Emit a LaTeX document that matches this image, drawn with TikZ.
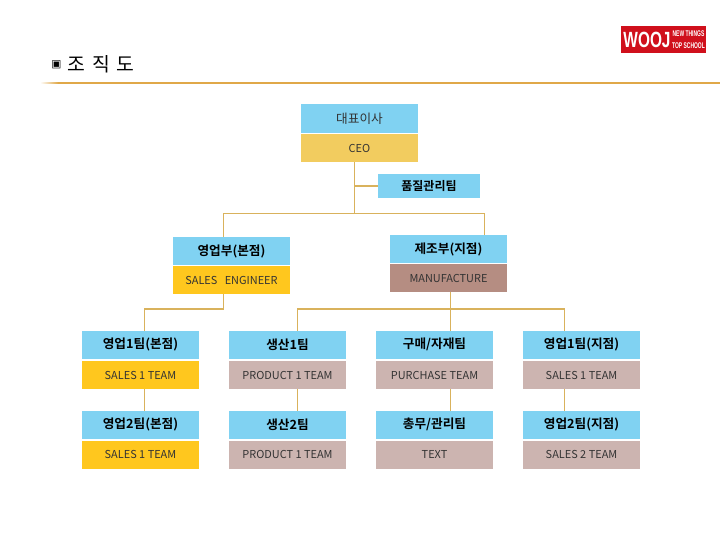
\documentclass[tikz,border=0pt]{standalone}
\usepackage{fontspec}
\setmainfont{Noto Sans CJK KR}
\newfontfamily\krbold{Noto Sans CJK KR Bold}
\newfontfamily\symb{DejaVu Sans}
\newfontfamily\logofont{Liberation Sans}
\definecolor{skyb}{HTML}{80D2F2}
\definecolor{ceogold}{HTML}{F2CC5F}
\definecolor{salesgold}{HTML}{FFC71E}
\definecolor{mfgbrown}{HTML}{B58D82}
\definecolor{teampink}{HTML}{CCB4B0}
\definecolor{linkgold}{HTML}{D9B25C}
\definecolor{rule}{HTML}{E0A848}
\definecolor{logored}{HTML}{D0101C}
\tikzset{
  tier/.style={inner sep=0pt, outer sep=0pt, minimum width=87.75pt, text=black!80},
  head/.style={tier, fill=skyb, minimum height=21pt, text=black, font=\krbold\fontsize{9.5}{10}\selectfont},
  headthin/.style={tier, fill=skyb, minimum height=22pt, font=\fontsize{9.5}{10}\selectfont},
  sub/.style={tier, minimum height=21pt, font=\fontsize{8.2}{9}\selectfont},
  link/.style={draw=linkgold, line width=0.9pt},
  logotext/.style={text=white, inner sep=0pt},
}
\begin{document}
\begin{tikzpicture}[x=0.75pt,y=-0.75pt]
\useasboundingbox (0,0) rectangle (720,540);
% title
\node[anchor=west, inner sep=0pt, font=\symb\fontsize{8}{9}\selectfont] (bullet) at (51,65) {▣};
\node[anchor=west, inner sep=0pt, font=\fontsize{14.5}{16}\selectfont] (title) at (67,64.5) {조\hspace{2pt} 직\hspace{2pt} 도};
\fill[left color=white, right color=rule] (40,82) rectangle (58,83.5);
\fill[rule] (58,82) rectangle (720,83.5);
% logo
\node[fill=logored, inner sep=0pt, minimum width=63.75pt, minimum height=20.25pt] (logo) at (663.5,39.5) {};
\node[logotext, font=\logofont\bfseries\fontsize{16.5}{17}\selectfont] (logoword) at (647,40) {\scalebox{0.7}[1]{WOOJ}};
\node[logotext, font=\logofont\bfseries\fontsize{6.2}{7}\selectfont] (logotagA) at (688.5,34) {\scalebox{0.6}[1]{NEW THINGS}};
\node[logotext, font=\logofont\bfseries\fontsize{6.2}{7}\selectfont] (logotagB) at (688.5,45.5) {\scalebox{0.6}[1]{TOP SCHOOL}};
% boxes
\node[headthin] (ceok) at (359.5,118.5) {대표이사};
\node[sub, fill=ceogold] (ceoe) at (359.5,148) {CEO};
\node[head, minimum width=76.5pt, minimum height=18pt, font=\krbold\fontsize{9}{10}\selectfont] (qual) at (429,186) {품질관리팀};
\node[head] (salesk) at (231.5,251) {영업부(본점)};
\node[sub, fill=salesgold] (salese) at (231.5,280) {SALES\ \ \ ENGINEER};
\node[head] (mfgk) at (448.5,249) {제조부(지점)};
\node[sub, fill=mfgbrown] (mfge) at (448.5,278) {MANUFACTURE};
\node[head] (a1k) at (140.5,344.5) {영업1팀(본점)};
\node[sub, fill=salesgold] (a1e) at (140.5,375) {SALES 1 TEAM};
\node[head] (a2k) at (140.5,424.5) {영업2팀(본점)};
\node[sub, fill=salesgold] (a2e) at (140.5,454.5) {SALES 1 TEAM};
\node[head] (b1k) at (287.5,344.5) {생산1팀};
\node[sub, fill=teampink] (b1e) at (287.5,375) {PRODUCT 1 TEAM};
\node[head] (b2k) at (287.5,424.5) {생산2팀};
\node[sub, fill=teampink] (b2e) at (287.5,454.5) {PRODUCT 1 TEAM};
\node[head] (c1k) at (434.5,344.5) {구매/자재팀};
\node[sub, fill=teampink] (c1e) at (434.5,375) {PURCHASE TEAM};
\node[head] (c2k) at (434.5,424.5) {총무/관리팀};
\node[sub, fill=teampink] (c2e) at (434.5,454.5) {TEXT};
\node[head] (d1k) at (581.5,344.5) {영업1팀(지점)};
\node[sub, fill=teampink] (d1e) at (581.5,375) {SALES 1 TEAM};
\node[head] (d2k) at (581.5,424.5) {영업2팀(지점)};
\node[sub, fill=teampink] (d2e) at (581.5,454.5) {SALES 2 TEAM};
% connector guides
\coordinate (trunk) at (354.5,213.5);
\coordinate (lx) at (223.5,309);
\coordinate (rx) at (450.5,309);
\coordinate (xa) at (144.5,309);
\coordinate (xb) at (297.5,309);
\coordinate (xc) at (450.5,309);
\coordinate (xd) at (564.5,309);
\coordinate (ldrop) at (223.5,213.5);
\coordinate (rdrop) at (484.5,213.5);
% connectors
\draw[link] (trunk |- ceoe.south) -- (trunk);
\draw[link] (trunk |- qual.west) -- (qual.west);
\draw[link] (ldrop |- salesk.north) -- (ldrop) -- (rdrop) -- (rdrop |- mfgk.north);
\draw[link] (lx |- salese.south) -- (lx) -- (xa) -- (xa |- a1k.north);
\draw[link] (rx |- mfge.south) -- (rx);
\draw[link] (xb |- b1k.north) -- (xb) -- (xd) -- (xd |- d1k.north);
\draw[link] (xc) -- (xc |- c1k.north);
\draw[link] (xa |- a1e.south) -- (xa |- a2k.north);
\draw[link] (xb |- b1e.south) -- (xb |- b2k.north);
\draw[link] (xc |- c1e.south) -- (xc |- c2k.north);
\draw[link] (xd |- d1e.south) -- (xd |- d2k.north);
\end{tikzpicture}
\end{document}
